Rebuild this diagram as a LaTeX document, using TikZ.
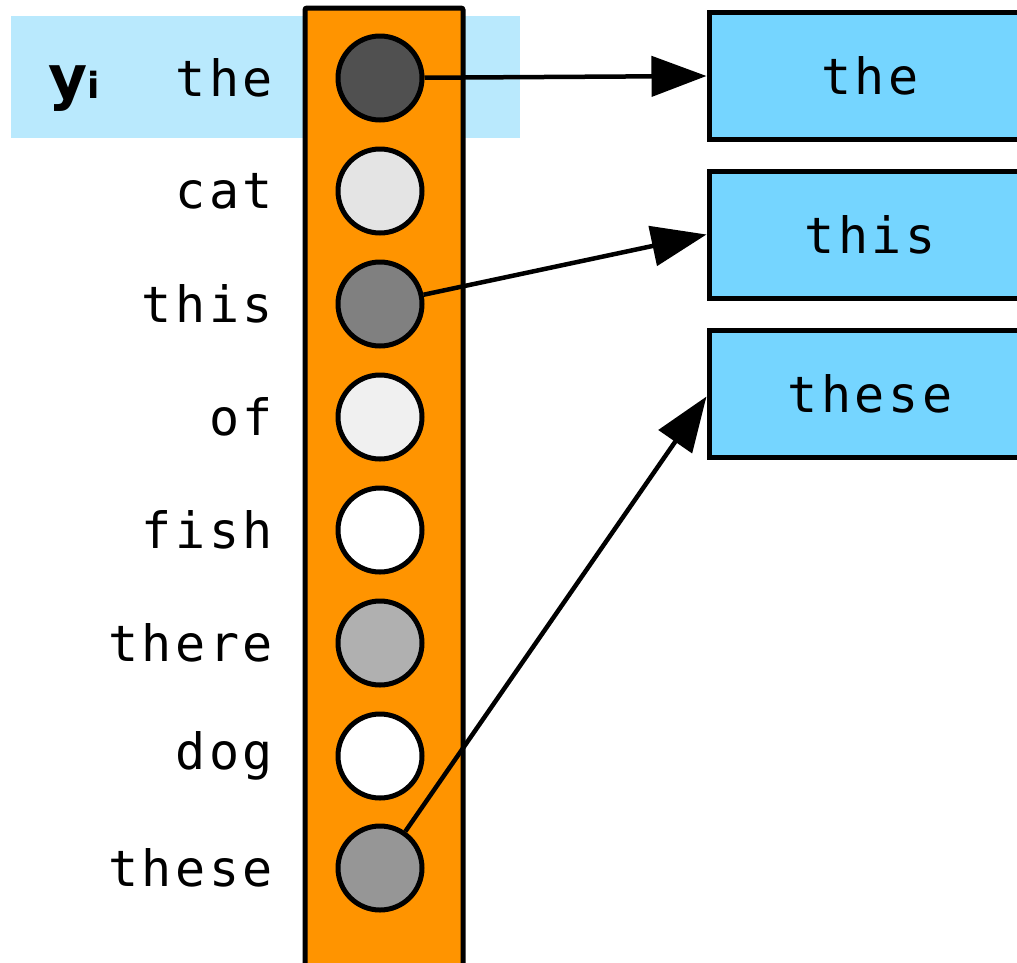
\documentclass[tikz,border=0pt]{standalone}
\usepackage{fontspec}
\newfontfamily\labfont[LetterSpace=7]{DejaVu Sans Mono}
\newfontfamily\yfont{DejaVu Sans}
\usetikzlibrary{arrows.meta}
\definecolor{hl}{HTML}{B9E9FD}
\definecolor{col}{HTML}{FF9400}
\definecolor{boxblue}{HTML}{75D5FF}
\tikzset{
  unitcirc/.style={circle, draw=black, line width=5pt, minimum size=84pt, inner sep=0pt},
  wordlab/.style={anchor=east, font=\labfont\fontsize{50}{56}\selectfont, inner sep=0pt},
  outbox/.style={draw=black, line width=5pt, fill=boxblue, minimum width=322pt, minimum height=127pt, inner sep=0pt, font=\labfont\fontsize{50}{56}\selectfont},
  conn/.style={line width=4.5pt, -{Triangle[length=55pt, width=40pt]}},
}
\begin{document}
\begin{tikzpicture}[x=1pt, y=-1pt]
\useasboundingbox (0,0) rectangle (1017,962);
\fill[hl] (11,16) rectangle (520,138);
\draw[line width=5pt, fill=col, rounded corners=2pt] (305,8) rectangle (463,975);
\node[anchor=base west, inner sep=0pt, font=\yfont\bfseries\fontsize{60}{62}\selectfont] (yi) at (48,98) {y\raisebox{0pt}{\fontsize{36}{40}\selectfont i}};
\foreach \n/\w/\y/\c in {1/the/78/505050, 2/cat/191/E4E4E4, 3/this/304/808080, 4/of/417/F0F0F0, 5/fish/530/FFFFFF, 6/there/643/B0B0B0, 7/dog/756/FFFFFF, 8/these/868/969696}{
  \definecolor{cc}{HTML}{\c}
  \node[unitcirc, fill=cc] (c\n) at (380,\y) {};
  \node[wordlab] (w\n) at (273,\y) {\w};
}
\node[outbox] (b1) at (870,76) {the};
\node[outbox] (b2) at (870,234.5) {this};
\node[outbox] (b3) at (870,393.5) {these};
\draw[conn] (c1) -- (b1.west);
\draw[conn] (c3) -- (b2.west);
\draw[conn] (c8) -- ([yshift=-3pt]b3.west);
\end{tikzpicture}
\end{document}
